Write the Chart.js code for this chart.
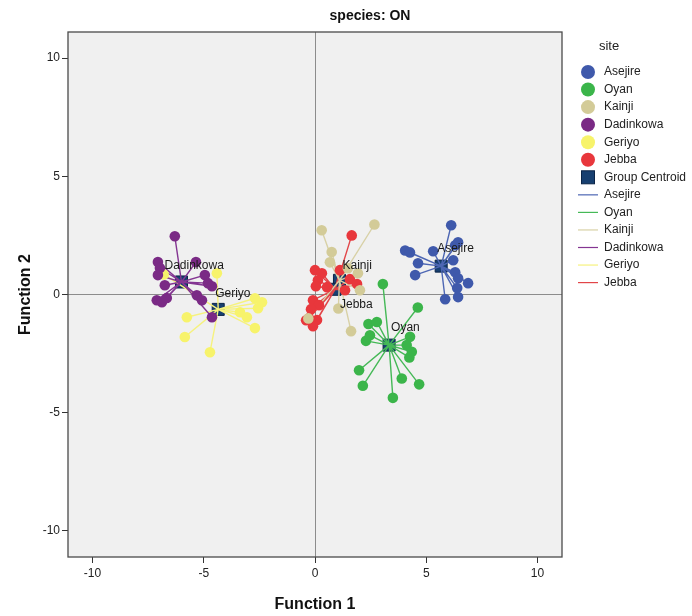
<!DOCTYPE html>
<html>
<head>
<meta charset="utf-8">
<script src="https://cdn.jsdelivr.net/npm/chart.js@4.4.1/dist/chart.umd.min.js"></script>
<style>
  html, body { margin: 0; padding: 0; background: #fff; }
  #wrap { width: 692px; height: 616px; }
</style>
</head>
<body>
<div id="wrap"><canvas id="ldaChart"></canvas></div>
<script>
// discriminant scores per site (Function 1, Function 2)
const sites = ['Asejire', 'Oyan', 'Kainji', 'Dadinkowa', 'Geriyo', 'Jebba'];

const asejireX = [6.12, 4.05, 4.27, 4.63, 4.50, 6.30, 6.43, 6.21, 6.30, 6.43, 6.88, 6.39, 6.43, 5.85, 5.31];
const asejireY = [2.93, 1.86, 1.78, 1.32, 0.82, 2.08, 2.21, 1.45, 0.94, 0.69, 0.48, 0.27, -0.11, -0.20, 1.83];

const oyanX = [3.05, 4.62, 2.40, 2.78, 2.47, 2.29, 4.27, 4.12, 4.35, 4.24, 1.98, 2.15, 3.90, 4.68, 3.50];
const oyanY = [0.44, -0.55, -1.25, -1.16, -1.72, -1.96, -1.79, -2.14, -2.42, -2.66, -3.20, -3.86, -3.55, -3.80, -4.37];

const kainjiX = [0.30, 2.67, 0.75, 0.67, 1.93, 2.02, 1.05, 1.62, -0.30, 1.48];
const kainjiY = [2.72, 2.96, 1.80, 1.36, 0.90, 0.18, -0.59, -1.55, -1.01, 1.11];

const dadinkowaX = [-6.30, -7.06, -6.97, -7.06, -6.75, -7.11, -6.88, -6.66, -5.35, -4.95, -4.81, -4.63, -5.31, -5.08, -4.63];
const dadinkowaY = [2.46, 1.37, 1.12, 0.82, 0.39, -0.24, -0.33, -0.15, 1.37, 0.82, 0.48, 0.35, -0.03, -0.24, -0.96];

const geriyoX = [-2.70, -2.38, -2.56, -3.06, -2.70, -3.37, -5.76, -5.85, -4.72, -4.41, -6.80];
const geriyoY = [-0.16, -0.33, -0.58, -0.96, -1.42, -0.75, -0.96, -1.80, -2.44, 0.90, 0.85];

const jebbaX = [1.65, 0.00, 0.31, 0.13, 0.04, 0.54, -0.09, 0.18, -0.18, -0.27, 0.09, -0.09, -0.40, 1.57, 1.89, 1.35, 1.12];
const jebbaY = [2.50, 1.03, 0.90, 0.60, 0.35, 0.31, -0.24, -0.45, -0.62, -1.00, -1.08, -1.34, -1.09, 0.65, 0.44, 0.18, 1.03];

const centroidX = [5.67, 3.33, 1.10, -6.00, -4.35, 0.90];
const centroidY = [1.20, -2.14, 0.60, 0.53, -0.63, 0.22];

const tickValues = [-10, -5, 0, 5, 10];

// styling
const pointColors = ['#3f59ab', '#3bb54a', '#d3cb98', '#7a2a85', '#f7f36b', '#e8373c'];
const lineColors = ['#4d66b3', '#45b957', '#d8d1a6', '#843592', '#f6f27e', '#e24548'];
const centroidFill = '#173f70';
const labelOffsets = [[-4, -17], [2, -17], [3, -15], [-17, -16], [-3, -16], [5, 15]];
const FONT = '"Liberation Sans", Arial, sans-serif';

const siteX = [asejireX, oyanX, kainjiX, dadinkowaX, geriyoX, jebbaX];
const siteY = [asejireY, oyanY, kainjiY, dadinkowaY, geriyoY, jebbaY];

const datasets = [];

// lower order is painted last (on top): points > spokes > centroids
datasets.push({
    label: 'Group Centroid',
    data: centroidX.map((x, i) => ({x: x, y: centroidY[i]})),
    pointStyle: 'rect',
    pointRadius: 8.5,
    backgroundColor: centroidFill,
    borderColor: '#0b2447',
    borderWidth: 1,
    order: 2
});

sites.forEach((name, s) => {
    datasets.push({
        label: name,
        data: siteX[s].map((x, i) => ({x: x, y: siteY[s][i]})),
        pointRadius: 5.3,
        backgroundColor: pointColors[s],
        borderWidth: 0,
        order: 0
    });
});

// spokes from each case to its group centroid
sites.forEach((name, s) => {
    const seg = [];
    siteX[s].forEach((x, i) => {
        seg.push({x: x, y: siteY[s][i]});
        seg.push({x: centroidX[s], y: centroidY[s]});
        seg.push({x: centroidX[s], y: null});
    });
    datasets.push({
        label: name + ' line',
        type: 'line',
        data: seg,
        showLine: true,
        spanGaps: false,
        pointRadius: 0,
        borderColor: lineColors[s],
        borderWidth: 1.4,
        order: 1
    });
});

const frameAndBackground = {
    id: 'frameAndBackground',
    beforeDraw(chart) {
        const {ctx, chartArea: a} = chart;
        ctx.save();
        ctx.fillStyle = '#f0f0f0';
        ctx.fillRect(a.left, a.top, a.right - a.left, a.bottom - a.top);
        ctx.restore();
    },
    afterDraw(chart) {
        const {ctx, chartArea: a} = chart;
        ctx.save();
        ctx.strokeStyle = '#4a4a4a';
        ctx.lineWidth = 1.3;
        ctx.strokeRect(a.left, a.top, a.right - a.left, a.bottom - a.top);
        ctx.restore();
    }
};

const centroidLabels = {
    id: 'centroidLabels',
    afterDatasetsDraw(chart) {
        const {ctx, scales: {x, y}} = chart;
        ctx.save();
        ctx.font = '12px ' + FONT;
        ctx.fillStyle = '#1a1a1a';
        ctx.textBaseline = 'middle';
        ctx.textAlign = 'left';
        sites.forEach((name, s) => {
            const px = x.getPixelForValue(centroidX[s]) + labelOffsets[s][0];
            const py = y.getPixelForValue(centroidY[s]) + labelOffsets[s][1];
            ctx.fillText(name, px, py);
        });
        ctx.restore();
    }
};

const titleAndLegend = {
    id: 'titleAndLegend',
    afterDraw(chart) {
        const ctx = chart.ctx;
        ctx.save();
        ctx.fillStyle = '#111';
        ctx.textAlign = 'center';
        ctx.textBaseline = 'middle';
        ctx.font = 'bold 14px ' + FONT;
        ctx.fillText('species: ON', 370, 16);

        ctx.font = '13px ' + FONT;
        ctx.fillStyle = '#222';
        ctx.fillText('site', 609, 46);

        const lx = 588, tx = 604, y0 = 72, step = 17.55;
        ctx.textAlign = 'left';
        ctx.font = '12px ' + FONT;
        let row = 0;
        sites.forEach((name, s) => {
            const yy = y0 + step * row++;
            ctx.beginPath();
            ctx.arc(lx, yy, 7, 0, Math.PI * 2);
            ctx.fillStyle = pointColors[s];
            ctx.fill();
            ctx.fillStyle = '#222';
            ctx.fillText(name, tx, yy);
        });
        let yy = y0 + step * row++;
        ctx.fillStyle = centroidFill;
        ctx.fillRect(lx - 6.5, yy - 6.5, 13, 13);
        ctx.strokeStyle = '#0b2447';
        ctx.lineWidth = 1;
        ctx.strokeRect(lx - 6.5, yy - 6.5, 13, 13);
        ctx.fillStyle = '#222';
        ctx.fillText('Group Centroid', tx, yy);
        sites.forEach((name, s) => {
            yy = y0 + step * row++;
            ctx.beginPath();
            ctx.moveTo(lx - 10, yy);
            ctx.lineTo(lx + 10, yy);
            ctx.strokeStyle = lineColors[s];
            ctx.lineWidth = 1.2;
            ctx.stroke();
            ctx.fillStyle = '#222';
            ctx.fillText(name, tx, yy);
        });
        ctx.restore();
    }
};

function axisOptions(titleText, isX) {
    return {
        type: 'linear',
        min: -11.1,
        max: 11.1,
        afterBuildTicks: scale => { scale.ticks = tickValues.map(v => ({value: v})); },
        afterFit: scale => {
            if (isX) scale.height = 59; else scale.width = 68;
        },
        ticks: {
            color: '#222',
            font: {family: FONT, size: 12},
            padding: isX ? 3 : 2
        },
        grid: {
            drawOnChartArea: true,
            color: c => (c.tick && c.tick.value === 0) ? '#8c8c8c' : 'rgba(0,0,0,0)',
            lineWidth: 1,
            tickColor: '#333',
            tickLength: 6
        },
        border: {display: false},
        title: {
            display: true,
            text: titleText,
            color: '#111',
            font: {family: FONT, size: 16, weight: 'bold'},
            padding: isX ? {top: 0, bottom: 2} : {top: 16, bottom: 0}
        }
    };
}

new Chart(document.getElementById('ldaChart').getContext('2d'), {
    type: 'scatter',
    data: {datasets: datasets},
    options: {
        responsive: true,
        maintainAspectRatio: false,
        animation: false,
        layout: {padding: {left: 0, right: 130, top: 32, bottom: 0}},
        plugins: {
            legend: {display: false},
            tooltip: {enabled: false}
        },
        scales: {
            x: axisOptions('Function 1', true),
            y: axisOptions('Function 2', false)
        }
    },
    plugins: [frameAndBackground, centroidLabels, titleAndLegend]
});
</script>
</body>
</html>
